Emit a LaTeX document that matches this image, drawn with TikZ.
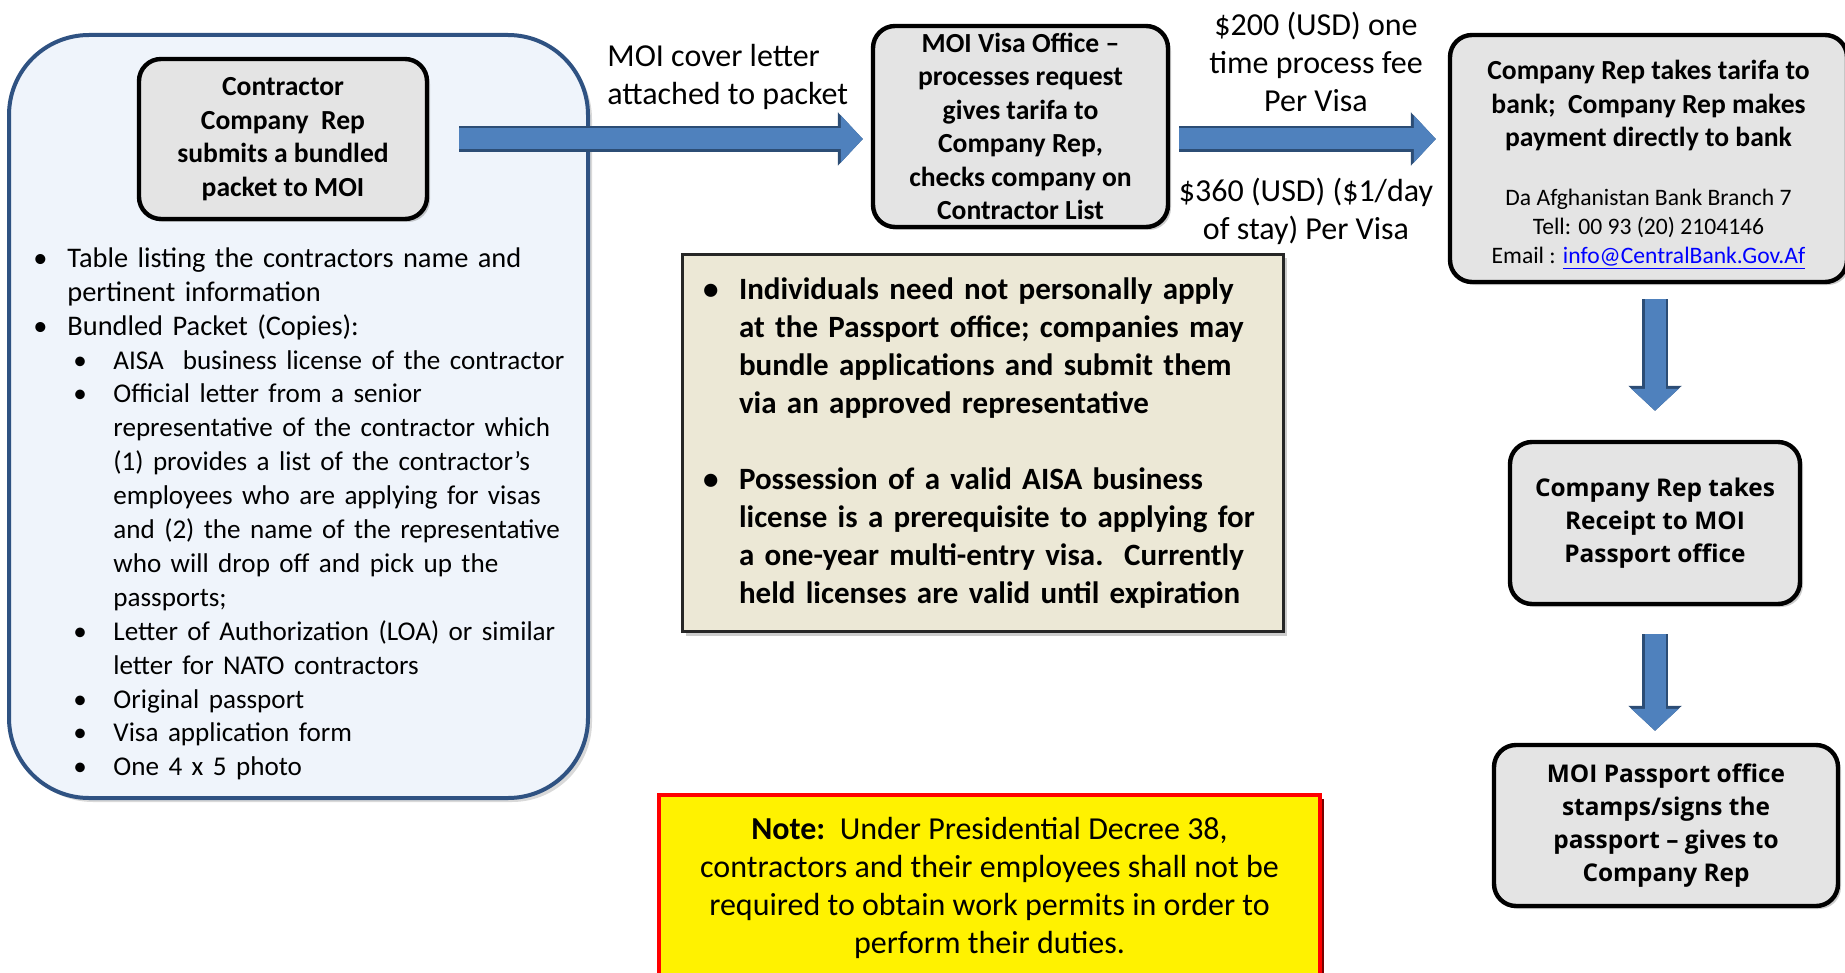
\documentclass[tikz,border=0pt]{standalone}
\usepackage{fontspec}
\setmainfont{Carlito}
\newfontfamily\opensans{Open Sans}
\usetikzlibrary{positioning}
\usetikzlibrary{arrows.meta}
\usetikzlibrary{shadows}
\definecolor{boxgray}{HTML}{E4E4E4}
\definecolor{packetfill}{HTML}{EFF4FB}
\definecolor{packetline}{HTML}{2F5282}
\definecolor{rulesfill}{HTML}{ECE8D6}
\definecolor{arrowblue}{HTML}{4F81BD}
\definecolor{arrowdark}{HTML}{2C4D75}
\definecolor{linkblue}{HTML}{0000FF}
\definecolor{notered}{HTML}{FF0000}
\definecolor{noteshade}{HTML}{7A0000}
\newcommand{\fntlist}{\fontsize{14.2}{16.95}\selectfont}
\newcommand{\fntsublist}{\fontsize{13.55}{16.95}\selectfont}
\newcommand{\fntbox}{\fontsize{13.8}{16.75}\selectfont\bfseries}
\newcommand{\fntbank}{\fontsize{11.8}{14.4}\selectfont\mdseries}
\newcommand{\fntlbl}{\fontsize{16}{18.8}\selectfont}
\newcommand{\fntnote}{\fontsize{16}{19}\selectfont}
\newcommand{\fntrules}{\fontsize{15.5}{19}\selectfont\bfseries}
\newcommand{\fntpass}{\opensans\fontsize{12.2}{16.6}\selectfont\bfseries}
\newenvironment{packetlist}[3][0pt]{%
  \begin{list}{\textbullet}{%
    \setlength{\leftmargin}{#2}%
    \setlength{\labelwidth}{#3}%
    \setlength{\labelsep}{0pt}%
    \setlength{\itemsep}{#1}%
    \setlength{\parsep}{0pt}%
    \setlength{\topsep}{0pt}%
    \setlength{\partopsep}{0pt}%
    \renewcommand{\makelabel}[1]{##1\hfil}}}%
  {\end{list}}
\tikzset{
    mybox/.style = {rectangle, rounded corners=11pt, line width=2.2pt, draw=black, fill=boxgray, align=center, inner sep=0pt,
        drop shadow={shadow xshift=1.5pt, shadow yshift=-1.5pt, opacity=0.4}},
    mybigbox/.style = {rectangle, rounded corners=40pt, line width=2pt, draw=packetline, fill=packetfill,
        drop shadow={shadow xshift=2pt, shadow yshift=-2pt, opacity=0.3}},
    myrules/.style = {rectangle, line width=1.5pt, draw=black!85, fill=rulesfill, inner xsep=0pt,
        drop shadow={shadow xshift=2pt, shadow yshift=-2pt, opacity=0.4}},
    mynote/.style = {rectangle, line width=2.2pt, draw=notered, fill=yellow, align=center,
        drop shadow={shadow xshift=2pt, shadow yshift=-2pt, fill=noteshade, opacity=1}},
    mylabel/.style = {align=center, inner sep=0pt, font=\fntlbl},
    edgeb/.style = {-{Triangle[length=11pt,width=23pt]}, line width=10.5pt, arrowblue,
        preaction={draw=arrowdark, line width=13pt, -{Triangle[length=12.5pt,width=26pt]}}},
}

\begin{document}
\begin{tikzpicture}[x=0.5pt, y=-0.5pt]
  \useasboundingbox (0,0) rectangle (1845,973);
  % left packet
  \node (packet) at (298.5,416.5) [mybigbox, minimum width=289.5pt, minimum height=381.5pt] {};
  \node (rep) at (283,139) [mybox, minimum width=144pt, minimum height=80pt, font=\fntbox]
    {Contractor\\ Company\ \ Rep\\ submits a bundled\\ packet to MOI};
  \node (items) at (30,233) [anchor=north west, text width=275pt, inner sep=0pt, font=\fntlist] {\raggedright
    \begin{packetlist}{18.5pt}{17pt}
    \item Table listing the contractors name and\\ pertinent information
    \item Bundled Packet (Copies):\fntsublist
      \begin{packetlist}{23pt}{20pt}
      \item AISA\ \ business license of the contractor
      \item Official letter from a senior\\ representative of the contractor which\\
        (1) provides a list of the contractor’s\\ employees who are applying for visas\\
        and (2) the name of the representative\\ who will drop off and pick up the\\ passports;
      \item Letter of Authorization (LOA) or similar\\ letter for NATO contractors
      \item Original passport
      \item Visa application form
      \item One 4 x 5 photo
      \end{packetlist}
    \end{packetlist}};
  % MOI and bank
  \node (visa) at (1020.5,126.5) [mybox, minimum width=147.5pt, minimum height=100.5pt, font=\fntbox]
    {MOI Visa Office –\\ processes request\\ gives tarifa to\\ Company Rep,\\ checks company on\\ Contractor List};
  \node (bank) at (1648.5,158.5) [mybox, align=flush center, minimum width=198.5pt, minimum height=123.5pt, text width=190pt, font=\fntbox]
    {\rule{0pt}{16.5pt}Company Rep takes tarifa to\\ bank;\ \ Company Rep makes\\ payment directly to bank\par
     \vspace{15pt}{\fntbank Da Afghanistan Bank Branch 7\\ Tell: 00 93 (20) 2104146\\
     Email : \textcolor{linkblue}{\underline{info@CentralBank.Gov.Af}}\par}};
  \node (receipt) at (1655,523) [mybox, minimum width=145pt, minimum height=81pt, font=\fntpass]
    {Company Rep takes\\ Receipt to MOI\\ Passport office};
  \node (stamp) at (1666,825.5) [mybox, minimum width=172pt, minimum height=80.5pt, font=\fntpass]
    {MOI Passport office\\ stamps/signs the\\ passport – gives to\\ Company Rep};
  % labels
  \node (coverlbl) at (607,77) [mylabel, anchor=west, align=left] {MOI cover letter\\ attached to packet};
  \node (feelbl) at (1316,62) [mylabel] {\$200 (USD) one\\ time process fee\\ Per Visa};
  \node (staylbl) at (1306,211.5) [mylabel] {\$360 (USD) (\$1/day\\ of stay) Per Visa};
  % notes
  \node (rules) at (982.5,443) [myrules, minimum width=300.5pt, minimum height=184pt, text width=300.5pt, font=\fntrules] {\raggedright
    \begin{packetlist}[19pt]{28.5pt}{18pt}
    \item Individuals need not personally apply\\ at the Passport office; companies may\\
      bundle applications and submit them\\ via an approved representative
    \item Possession of a valid AISA business\\ license is a prerequisite to applying for\\
      a one-year multi-entry visa.\ \ Currently\\ held licenses are valid until expiration\rule[-11pt]{0pt}{11pt}
    \end{packetlist}};
  \node (note) at (989.5,887.5) [mynote, minimum width=330.5pt, minimum height=92.5pt, font=\fntnote]
    {\textbf{Note:}\ \ Under Presidential Decree 38,\\ contractors and their employees shall not be\\
     required to obtain work permits in order to\\ perform their duties.};
  % arrows
  \draw[edgeb, shorten <=15pt, shorten >=4pt] (rep.east) -- (rep.east -| visa.west);
  \draw[edgeb, shorten <=4.5pt, shorten >=6pt] (visa.east |- rep.east) -- (bank.west |- rep.east);
  \draw[edgeb, shorten <=7.5pt, shorten >=14.5pt] (receipt.north |- bank.south) -- (receipt.north);
  \draw[edgeb, shorten <=14pt, shorten >=6pt] (receipt.south) -- (receipt.south |- stamp.north);
\end{tikzpicture}
\end{document}
